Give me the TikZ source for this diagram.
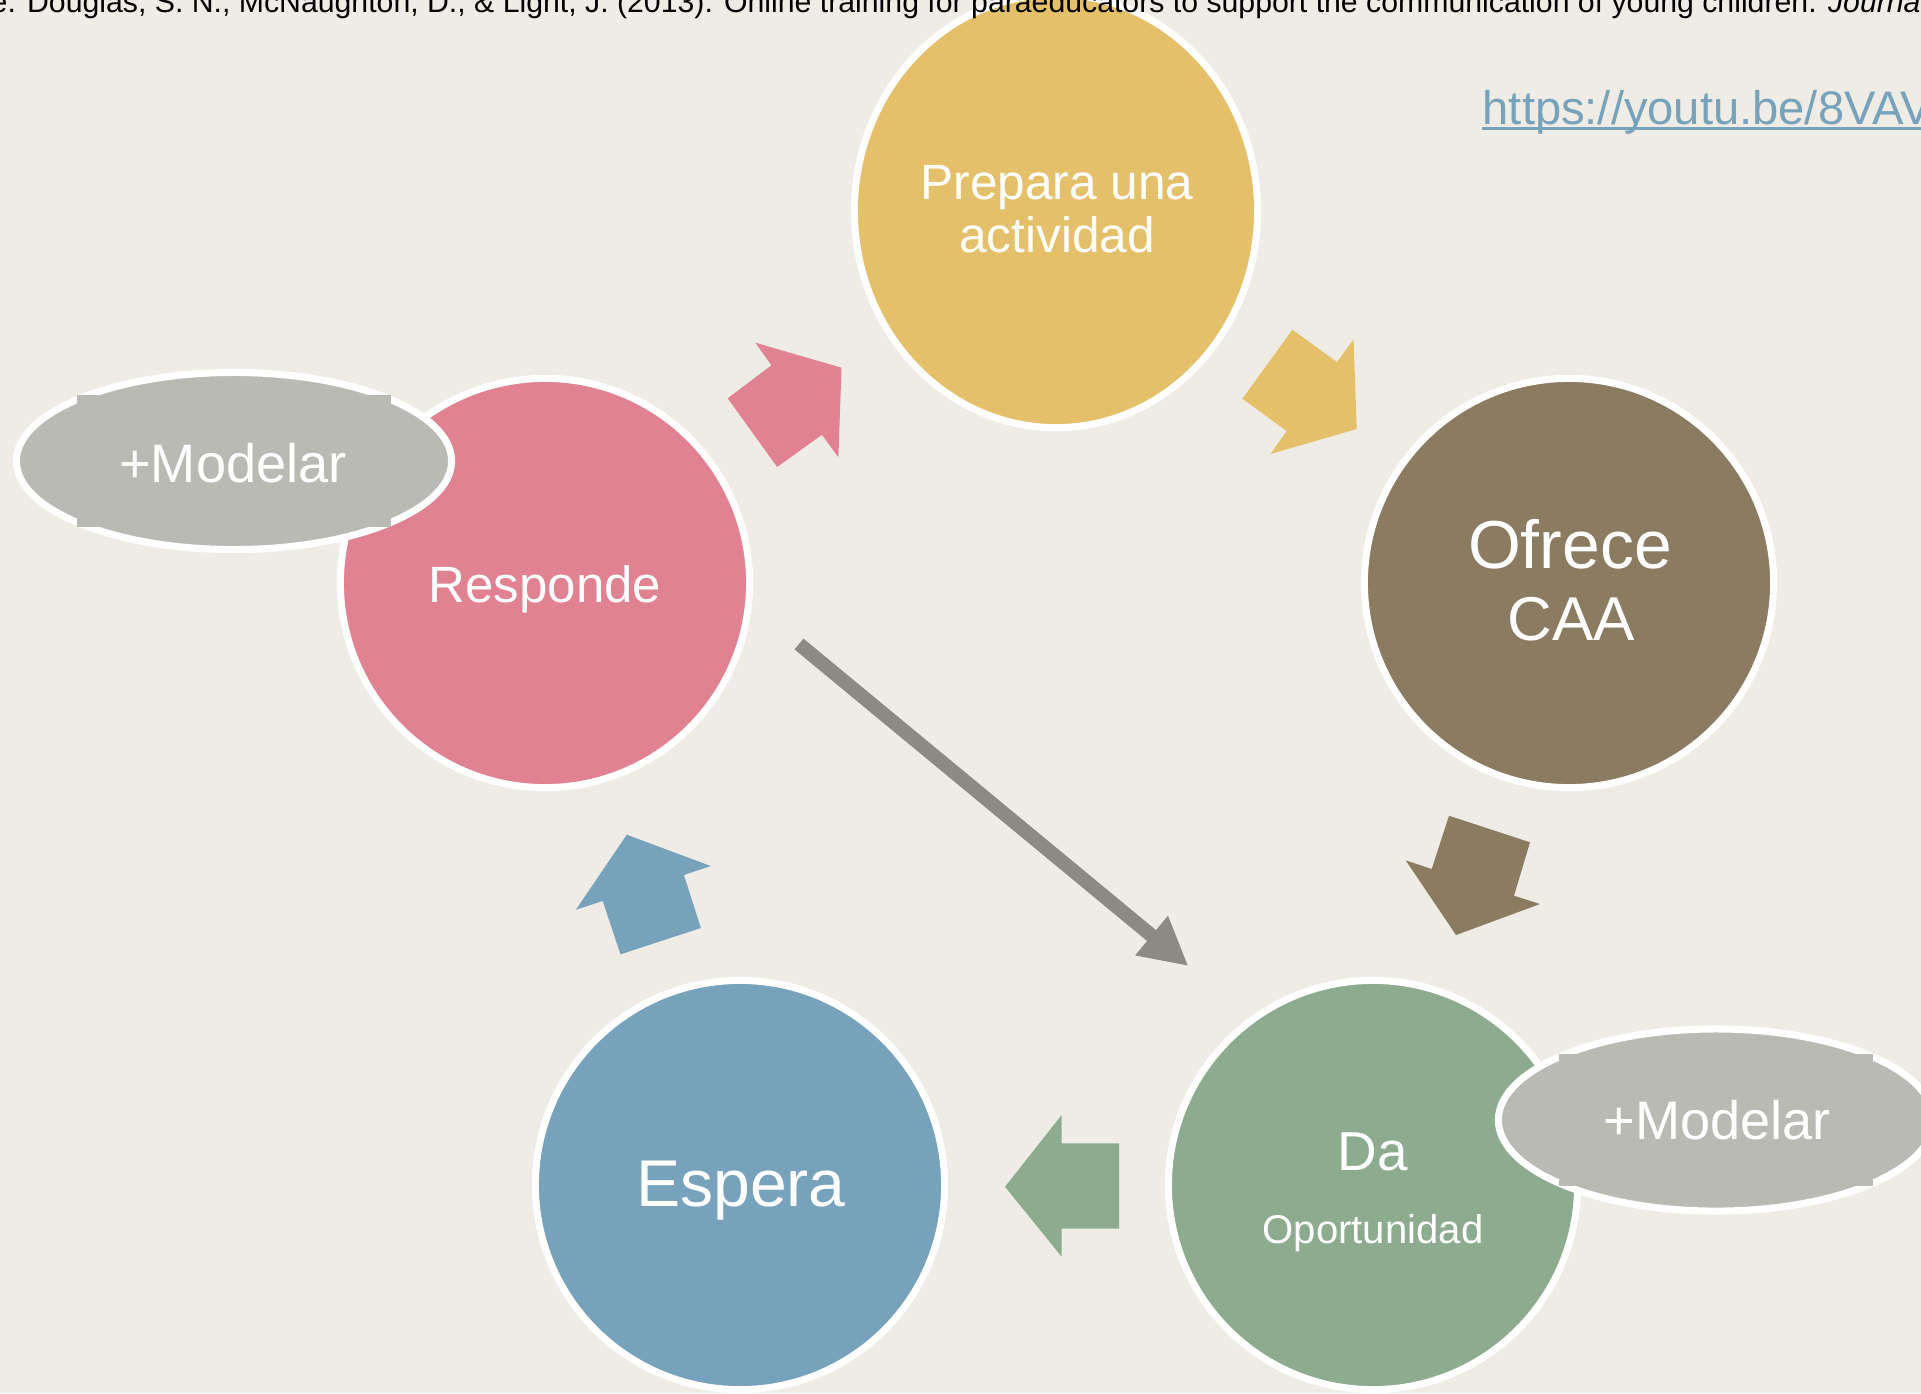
\documentclass[tikz,border=0pt]{standalone}
\usepackage{fontspec}
\setmainfont{Liberation Sans}
\usetikzlibrary{shapes.geometric,arrows.meta,calc}

\definecolor{bgcol}{RGB}{238,236,228}
\definecolor{prepcol}{RGB}{229,192,106}
\definecolor{respcol}{RGB}{225,130,147}
\definecolor{ofrcol}{RGB}{138,123,97}
\definecolor{dacol}{RGB}{141,171,142}
\definecolor{espcol}{RGB}{118,162,187}
\definecolor{modcol}{RGB}{186,186,181}
\definecolor{grarrow}{RGB}{139,139,131}

\tikzset{
  bubble/.style={circle, draw=white, line width=2pt, minimum size=4.09cm, inner sep=0pt},
  modbox/.style={ellipse, draw=white, line width=2pt, fill=modcol, minimum width=4.35cm, minimum height=1.77cm, inner sep=0pt},
  lbl/.style={text=white, anchor=base, inner sep=0pt, align=center},
  grline/.style={draw=grarrow, line width=4pt, -{Triangle[length=13.6pt, width=13.6pt]}},
}

\begin{document}
\begin{tikzpicture}[x=0.01cm, y=-0.01cm]
  \fill[bgcol] (0,0) rectangle (1921,1393);
  \useasboundingbox (0,0) rectangle (1921,1393);

  % circles
  \node[ellipse, draw=white, line width=2pt, fill=prepcol, minimum width=4.03cm, minimum height=4.33cm, inner sep=0pt] (prep) at (1056,211) {};
  \node[bubble, fill=respcol] (resp) at (545,583) {};
  \node[bubble, fill=ofrcol] (ofr) at (1569,583) {};
  \node[bubble, fill=espcol] (esp) at (740,1185) {};
  \node[bubble, fill=dacol] (da) at (1373,1185) {};

  % block arrows
  \fill[respcol] (755.4,342.7) -- (841.5,367.7) -- (838.4,457.3) -- (821.9,434.7) -- (777.2,467) -- (727.7,398.3) -- (771.4,365.3) -- cycle;
  \fill[prepcol] (1292.4,329.7) -- (1337,362) -- (1353.6,339.3) -- (1356.7,429) -- (1270.5,454) -- (1286.6,431) -- (1242.4,398.7) -- cycle;
  \fill[ofrcol] (1449,815.7) -- (1530,842.3) -- (1514,895.7) -- (1540,904) -- (1456,935) -- (1405.7,860.3) -- (1431.7,869) -- cycle;
  \fill[dacol] (1061.7,1115) -- (1061.7,1143.3) -- (1119,1143.3) -- (1119,1228.7) -- (1061.7,1228.7) -- (1061.7,1256.7) -- (1005,1186.7) -- cycle;
  \fill[espcol] (626.8,834.7) -- (710.7,866) -- (683.9,875) -- (700.9,928) -- (620.5,954.3) -- (602.7,901) -- (575.9,909.7) -- cycle;

  % grey connector
  \coordinate (gs) at (799,644);
  \coordinate (ge) at (1188.4,966);
  \draw[grline] (gs) -- (ge);

  % +Modelar bubbles
  \node[modbox] (modl) at (234,461) {};
  \node[modbox, minimum height=1.82cm] (modr) at (1716,1120) {};
  \foreach \m in {modl,modr}
    \foreach \sx in {-1,1}
      \foreach \sy in {-1,1}
        \fill[modcol] ($(\m)+(\sx*135,\sy*56)$) rectangle ($(\m)+(\sx*157,\sy*66)$);

  % labels
  \node[lbl, font={\fontsize{14.1pt}{14.8pt}\selectfont}] (prep-t) at (1057,252) {Prepara una\\actividad};
  \node[lbl, font={\fontsize{14.5pt}{16pt}\selectfont}] (resp-t) at (545,602) {Responde};
  \node[lbl, font={\fontsize{19.3pt}{22pt}\selectfont}] (ofr-t) at (1570,568) {Ofrece};
  \node[lbl, font={\fontsize{17.6pt}{20pt}\selectfont}] (caa-t) at (1571,640) {CAA};
  \node[lbl, font={\fontsize{18.8pt}{21pt}\selectfont}] (esp-t) at (741,1206) {Espera};
  \node[lbl, font={\fontsize{15.6pt}{18pt}\selectfont}] (da-t) at (1373,1170) {Da};
  \node[lbl, font={\fontsize{11.4pt}{13pt}\selectfont}] (opo-t) at (1373,1243) {Oportunidad};
  \node[lbl, font={\fontsize{15.4pt}{18pt}\selectfont}] (modl-t) at (233,482) {+Modelar};
  \node[lbl, font={\fontsize{15.4pt}{18pt}\selectfont}] (modr-t) at (1717,1139) {+Modelar};

  % reference and link
  \node[anchor=base west, inner sep=0pt, font={\fontsize{8.6pt}{10pt}\selectfont}] (cite) at (-10,12)
    {e. Douglas, S. N., McNaughton, D., \& Light, J. (2013). Online training for paraeducators to support the communication of young children. \textit{Journal}};
  \node[anchor=base west, inner sep=0pt, text=espcol, font={\fontsize{13.4pt}{16pt}\selectfont}] (url) at (1482,124) {https://youtu.be/8VAV};
  \draw[espcol, line width=0.85pt] ($(url.base west)+(0,4)$) -- ($(url.base east)+(0,4)$);
\end{tikzpicture}
\end{document}
